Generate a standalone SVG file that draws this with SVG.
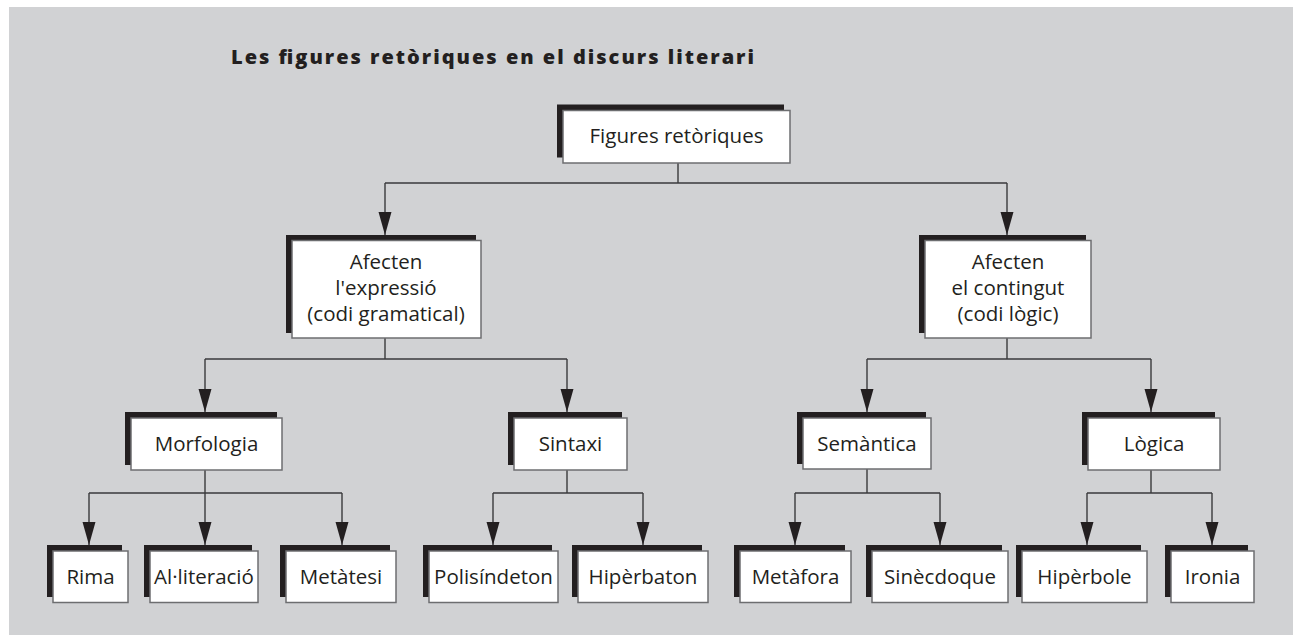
<svg xmlns="http://www.w3.org/2000/svg" width="1293" height="635" viewBox="0 0 1293 635">
<style>
.bg{fill:#d1d2d4}
.sh{fill:#231f20}
.bx{fill:#ffffff;stroke:#6d6e70;stroke-width:1.5}
.t{font-family:"Open Sans","Noto Sans","Liberation Sans",sans-serif;font-size:20.5px;fill:#231f20;text-anchor:middle}
.title{font-family:"Open Sans","Noto Sans","Liberation Sans",sans-serif;font-size:20px;font-weight:800;fill:#231f20;text-anchor:middle}
.c{fill:none;stroke:#3a3a3c;stroke-width:1.4}
</style>
<defs>
<marker id="ah" markerUnits="userSpaceOnUse" viewBox="0 -7 23 14" refX="23" refY="0" markerWidth="23" markerHeight="14" orient="auto">
<path d="M0,-6.5 L23,0 L0,6.5 Z" fill="#231f20"/>
</marker>
</defs>
<rect class="bg" x="9" y="7" width="1284" height="628"/>
<text class="title" x="492.5" y="64" textLength="523" lengthAdjust="spacing">Les figures retòriques en el discurs literari</text>

<g id="connectors">
<path class="c" d="M678,163 V183 M385,183 H1007"/>
<path class="c" d="M385,183 V235" marker-end="url(#ah)"/>
<path class="c" d="M1007,183 V235" marker-end="url(#ah)"/>
<path class="c" d="M385,338 V359 M205,359 H567"/>
<path class="c" d="M205,359 V412" marker-end="url(#ah)"/>
<path class="c" d="M567,359 V412" marker-end="url(#ah)"/>
<path class="c" d="M1007,338 V359 M867,359 H1151"/>
<path class="c" d="M867,359 V412" marker-end="url(#ah)"/>
<path class="c" d="M1151,359 V412" marker-end="url(#ah)"/>
<path class="c" d="M205,470 V493 M89,493 H342"/>
<path class="c" d="M89,493 V545" marker-end="url(#ah)"/>
<path class="c" d="M205,493 V545" marker-end="url(#ah)"/>
<path class="c" d="M342,493 V545" marker-end="url(#ah)"/>
<path class="c" d="M567,470 V493 M493,493 H643"/>
<path class="c" d="M493,493 V545" marker-end="url(#ah)"/>
<path class="c" d="M643,493 V545" marker-end="url(#ah)"/>
<path class="c" d="M867,469 V493 M795,493 H940"/>
<path class="c" d="M795,493 V545" marker-end="url(#ah)"/>
<path class="c" d="M940,493 V545" marker-end="url(#ah)"/>
<path class="c" d="M1151,470 V493 M1087,493 H1212"/>
<path class="c" d="M1087,493 V545" marker-end="url(#ah)"/>
<path class="c" d="M1212,493 V545" marker-end="url(#ah)"/>
</g>

<g id="n-root">
<rect class="sh" x="557" y="104.5" width="227" height="53"/>
<rect class="bx" x="563" y="110.5" width="227" height="52.5"/>
<text class="t" x="676.5" y="143">Figures retòriques</text>
</g>

<g id="n-expressio">
<rect class="sh" x="286" y="235" width="190" height="98"/>
<rect class="bx" x="292" y="240.5" width="189" height="97.5"/>
<text class="t" x="386" y="269">Afecten</text>
<text class="t" x="386" y="295">l'expressió</text>
<text class="t" x="386" y="321">(codi gramatical)</text>
</g>

<g id="n-contingut">
<rect class="sh" x="919" y="235" width="167" height="98"/>
<rect class="bx" x="925" y="240.5" width="166" height="97.5"/>
<text class="t" x="1008" y="269">Afecten</text>
<text class="t" x="1008" y="295">el contingut</text>
<text class="t" x="1008" y="321">(codi lògic)</text>
</g>

<g id="n-morfologia">
<rect class="sh" x="125" y="412" width="152" height="53"/>
<rect class="bx" x="131" y="418" width="151" height="52"/>
<text class="t" x="206.5" y="451">Morfologia</text>
</g>

<g id="n-sintaxi">
<rect class="sh" x="508" y="412" width="114" height="53"/>
<rect class="bx" x="514" y="418" width="113" height="52"/>
<text class="t" x="570.5" y="451">Sintaxi</text>
</g>

<g id="n-semantica">
<rect class="sh" x="797" y="412" width="129" height="52"/>
<rect class="bx" x="803" y="418" width="128" height="51"/>
<text class="t" x="867" y="451">Semàntica</text>
</g>

<g id="n-logica">
<rect class="sh" x="1082" y="412" width="133" height="53"/>
<rect class="bx" x="1088" y="418" width="132" height="52"/>
<text class="t" x="1154" y="451">Lògica</text>
</g>

<g id="n-rima">
<rect class="sh" x="47" y="545" width="75" height="52"/>
<rect class="bx" x="53" y="551" width="75" height="51.5"/>
<text class="t" x="90.5" y="584">Rima</text>
</g>

<g id="n-alliteracio">
<rect class="sh" x="144" y="545" width="108" height="52"/>
<rect class="bx" x="150" y="551" width="108" height="51.5"/>
<text class="t" x="204" y="584">Al·literació</text>
</g>

<g id="n-metatesi">
<rect class="sh" x="280" y="545" width="110" height="52"/>
<rect class="bx" x="286" y="551" width="110" height="51.5"/>
<text class="t" x="341" y="584">Metàtesi</text>
</g>

<g id="n-polisindeton">
<rect class="sh" x="423" y="545" width="129" height="52"/>
<rect class="bx" x="429" y="551" width="129" height="51.5"/>
<text class="t" x="493.5" y="584">Polisíndeton</text>
</g>

<g id="n-hiperbaton">
<rect class="sh" x="572" y="545" width="130" height="52"/>
<rect class="bx" x="578" y="551" width="130" height="51.5"/>
<text class="t" x="643" y="584">Hipèrbaton</text>
</g>

<g id="n-metafora">
<rect class="sh" x="734" y="545" width="111" height="52"/>
<rect class="bx" x="740" y="551" width="111" height="51.5"/>
<text class="t" x="795.5" y="584">Metàfora</text>
</g>

<g id="n-sinecdoque">
<rect class="sh" x="866" y="545" width="136" height="52"/>
<rect class="bx" x="872" y="551" width="136" height="51.5"/>
<text class="t" x="940" y="584">Sinècdoque</text>
</g>

<g id="n-hiperbole">
<rect class="sh" x="1016" y="545" width="125" height="52"/>
<rect class="bx" x="1022" y="551" width="125" height="51.5"/>
<text class="t" x="1084.5" y="584">Hipèrbole</text>
</g>

<g id="n-ironia">
<rect class="sh" x="1165" y="545" width="83" height="52"/>
<rect class="bx" x="1171" y="551" width="83" height="51.5"/>
<text class="t" x="1212.5" y="584">Ironia</text>
</g>
</svg>
